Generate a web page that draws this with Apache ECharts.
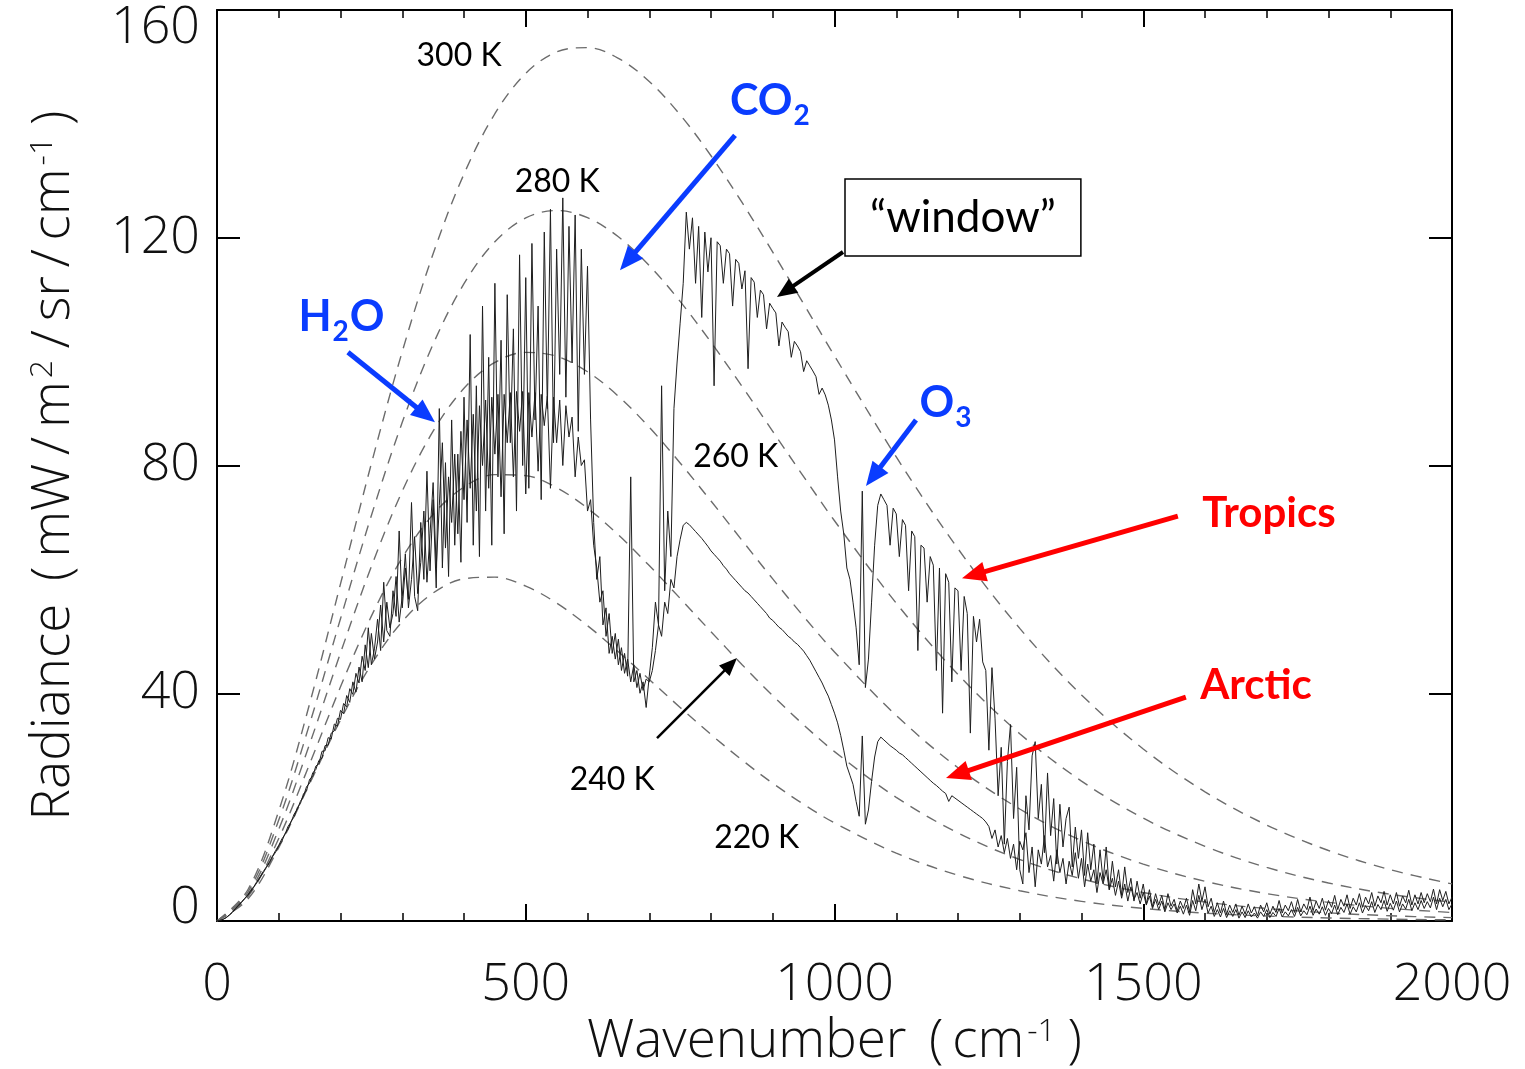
<!DOCTYPE html>
<html>
<head>
<meta charset="utf-8">
<title>Outgoing longwave radiance spectra</title>
<script src="https://cdn.jsdelivr.net/npm/echarts@6/dist/echarts.min.js"></script>
<style>
  html, body { margin: 0; padding: 0; background: #fff; }
  #chart { width: 1525px; height: 1069px; }
</style>
</head>
<body>
<div id="chart"></div>
<script>
// ---------------------------------------------------------------------------
// Data
// ---------------------------------------------------------------------------

// Measured spectra are sampled every 5 cm^-1 from 0 to 2000 cm^-1.
const specStart = 0;
const specStep = 5;

// Tropical clear-sky radiance (mW/m^2/sr/cm^-1)
const tropics = [
  0, 0.1, 0.3, 0.6, 1.1, 1.6, 2.2, 2.8, 3.4, 4.0, 4.6, 5.4, 6.1, 7.0, 7.8, 8.7, 9.5, 10.4, 11.4, 12.4,
  13.3, 14.4, 15.2, 16.6, 17.4, 18.8, 19.6, 21.0, 21.9, 23.6, 24.2, 26.0, 26.6, 28.2, 28.6, 30.8, 30.9, 33.0, 33.4, 35.6,
  35.4, 38.2, 37.6, 40.8, 39.8, 43.5, 41.8, 46.5, 44.0, 51.5, 45.0, 47.8, 53.0, 47.5, 59.5, 51.0, 50.0, 58.0, 53.5, 68.5,
  55.0, 62.0, 56.5, 73.5, 57.0, 54.5, 70.0, 60.0, 79.0, 61.5, 74.0, 58.5, 90.0, 62.0, 80.5, 60.5, 88.0, 66.0, 82.0, 63.0,
  92.0, 70.0, 103.0, 66.0, 94.0, 64.0, 108.0, 72.0, 99.0, 66.0, 112.0, 78.0, 102.0, 68.0, 110.0, 84.0, 104.0, 72.0, 117.0, 80.0,
  113.0, 76.0, 119.0, 88.0, 108.0, 74.0, 121.0, 90.0, 125.0, 84.0, 118.0, 96.0, 127.0, 92.0, 122.0, 98.0, 124.0, 86.0, 118.0, 96.0,
  115.0, 88.0, 70.0, 60.0, 64.0, 52.0, 55.0, 47.0, 50.0, 46.0, 49.5, 44.0, 47.0, 43.0, 78.0, 42.0, 44.0, 40.0, 42.0, 37.5,
  43.0, 48.0, 56.0, 52.0, 94.0, 58.0, 72.0, 64.0, 90.0, 98.0, 105.0, 112.0, 124.5, 118.0, 123.5, 112.0, 122.0, 106.0, 121.0, 114.0,
  120.0, 94.0, 119.3, 118.6, 112.0, 118.0, 117.2, 108.0, 116.2, 115.5, 111.0, 114.2, 97.0, 113.0, 112.2, 106.0, 110.8, 110.0, 104.0, 108.5,
  107.6, 106.8, 101.0, 105.2, 104.3, 103.5, 99.0, 101.8, 101.0, 100.0, 96.5, 98.4, 97.5, 96.6, 95.6, 92.5, 93.6, 92.4, 90.6, 88.0,
  84.5, 78.0, 72.0, 68.0, 62.0, 60.0, 56.0, 51.5, 45.0, 75.5, 41.0, 46.0, 56.0, 66.0, 73.0, 75.0, 74.0, 73.0, 66.0, 72.5,
  71.5, 64.0, 70.5, 69.5, 58.0, 68.5, 67.5, 47.5, 66.0, 65.5, 56.0, 64.0, 62.5, 44.0, 62.0, 36.5, 61.0, 59.5, 42.0, 58.5,
  58.0, 44.0, 57.0, 54.0, 33.0, 53.5, 49.0, 53.0, 45.5, 44.0, 30.0, 44.5, 35.5, 22.0, 30.5, 13.5, 28.0, 34.5, 18.0, 27.0,
  9.0, 6.5, 22.0, 16.0, 29.0, 31.5, 18.0, 24.0, 12.0, 26.0, 15.0, 21.5, 10.0, 20.5, 13.0, 18.0, 20.0, 9.5, 16.5, 11.0,
  16.0, 8.0, 15.5, 9.0, 13.5, 6.5, 12.5, 7.0, 13.0, 5.5, 10.5, 6.0, 9.0, 4.5, 9.5, 5.0, 7.5, 3.5, 7.0, 4.0,
  6.5, 3.0, 5.5, 2.5, 4.8, 2.8, 4.5, 2.0, 4.8, 2.6, 3.8, 1.8, 3.5, 2.2, 4.0, 1.6, 5.5, 3.0, 6.5, 3.5,
  6.0, 2.5, 4.0, 1.5, 3.2, 1.4, 3.5, 1.2, 2.8, 1.5, 3.0, 1.0, 2.6, 1.2, 3.0, 1.4, 2.5, 0.9, 2.8, 1.6,
  3.2, 1.2, 2.6, 1.5, 3.6, 1.4, 2.8, 1.8, 3.4, 1.5, 3.8, 1.6, 3.0, 2.0, 4.2, 1.8, 3.5, 2.2, 4.0, 1.9,
  3.6, 2.4, 4.5, 2.0, 3.8, 2.6, 4.6, 2.2, 4.0, 2.8, 4.8, 2.4, 4.2, 3.0, 5.0, 2.6, 4.4, 3.2, 5.2, 2.8,
  4.6, 3.0, 5.0, 2.6, 4.4, 3.2, 5.4, 2.8, 4.6, 3.0, 5.0, 3.2, 4.8, 3.4, 5.6, 3.0, 5.5, 3.6, 5.2, 3.0,
  4.2
];

// Arctic clear-sky radiance (mW/m^2/sr/cm^-1)
const arctic = [
  0, 0.1, 0.3, 0.6, 1.0, 1.5, 2.1, 2.7, 3.3, 3.9, 4.5, 5.2, 6.0, 6.8, 7.7, 8.5, 9.4, 10.2, 11.3, 12.1,
  13.2, 14.0, 15.3, 16.1, 17.5, 18.3, 19.9, 20.6, 22.3, 22.9, 24.9, 25.4, 27.2, 27.6, 29.8, 29.9, 32.2, 32.0, 34.6, 34.2,
  37.0, 36.4, 39.6, 38.4, 42.0, 40.2, 44.6, 42.0, 48.5, 44.5, 50.5, 46.0, 49.0, 55.5, 49.0, 56.0, 51.5, 54.0, 60.5, 52.5,
  57.0, 64.5, 55.0, 60.0, 67.5, 57.5, 63.0, 72.0, 59.5, 68.0, 77.0, 62.0, 73.0, 84.0, 65.5, 78.0, 70.0, 82.0, 68.0, 86.0,
  74.0, 88.0, 76.0, 89.0, 72.0, 90.5, 80.0, 91.5, 76.0, 92.0, 82.0, 92.5, 74.5, 92.5, 84.0, 92.8, 78.0, 93.0, 86.0, 93.0,
  75.0, 92.8, 85.0, 92.8, 79.0, 92.5, 87.0, 92.2, 76.0, 92.0, 84.0, 91.5, 80.0, 90.5, 85.0, 88.5, 78.0, 85.0, 80.0, 81.0,
  72.0, 74.0, 66.0, 62.0, 56.0, 58.0, 50.0, 54.0, 47.0, 50.5, 45.0, 48.0, 43.5, 46.0, 42.0, 45.0, 41.0, 43.5, 40.5, 42.5,
  42.0, 44.0, 47.5, 52.0, 50.0, 56.0, 54.0, 60.0, 58.5, 64.0, 67.0, 69.5, 70.0, 69.6, 69.0, 68.4, 67.8, 67.2, 66.5, 65.8,
  65.0, 64.4, 63.8, 63.2, 62.4, 61.8, 61.0, 60.4, 59.8, 59.2, 58.6, 58.0, 57.6, 57.0, 56.4, 55.8, 55.2, 54.6, 54.0, 53.2,
  52.8, 52.2, 51.6, 51.2, 50.6, 50.0, 49.6, 49.0, 48.6, 48.0, 47.4, 46.6, 45.8, 44.8, 43.8, 42.8, 41.8, 40.6, 39.5, 38.0,
  36.5, 34.8, 32.6, 30.0, 27.2, 25.6, 24.0, 21.0, 18.4, 32.5, 17.0, 19.5, 24.5, 28.8, 31.5, 32.3, 31.8, 31.3, 30.8, 30.4,
  30.0, 29.5, 29.2, 28.7, 28.2, 27.7, 27.2, 26.7, 26.2, 25.7, 25.2, 24.7, 24.2, 23.8, 23.3, 22.8, 22.4, 21.0, 22.0, 21.6,
  21.2, 20.8, 20.4, 20.0, 19.6, 19.2, 18.8, 18.4, 18.0, 17.4, 16.6, 14.5, 16.0, 13.0, 15.0, 12.0, 14.5, 11.0, 13.5, 9.0,
  14.0, 12.5, 15.5, 8.5, 13.0, 6.0, 12.5, 10.0, 15.0, 9.5, 11.5, 7.0, 12.5, 8.5, 11.0, 6.5, 10.5, 8.0, 12.0, 7.5,
  11.0, 6.0, 10.0, 7.0, 9.0, 5.0, 8.5, 6.5, 9.0, 5.5, 7.5, 4.5, 7.0, 4.0, 6.5, 3.5, 6.0, 3.8, 5.0, 3.0,
  5.0, 2.8, 4.4, 2.2, 3.8, 2.0, 3.5, 1.6, 3.2, 2.0, 3.0, 1.4, 2.6, 1.2, 2.8, 1.0, 3.6, 1.8, 4.5, 2.0,
  3.8, 1.4, 2.6, 0.8, 2.0, 0.7, 2.2, 0.6, 1.8, 0.8, 2.0, 0.5, 1.6, 0.6, 1.8, 0.7, 1.4, 0.5, 1.6, 0.8,
  2.0, 0.6, 1.5, 0.8, 2.2, 0.7, 1.6, 0.9, 2.0, 0.8, 2.4, 0.9, 1.8, 1.1, 2.6, 1.0, 2.1, 1.2, 2.5, 1.0,
  2.2, 1.3, 2.8, 1.1, 2.4, 1.5, 3.0, 1.2, 2.5, 1.6, 3.2, 1.4, 2.7, 1.8, 3.4, 1.5, 2.9, 2.0, 3.6, 1.7,
  3.1, 1.9, 3.5, 1.6, 3.0, 2.1, 3.8, 1.8, 3.2, 2.0, 3.6, 2.2, 3.4, 2.3, 4.2, 2.0, 4.0, 2.5, 3.8, 2.0,
  3.0
];

// Blackbody reference curves (mW/m^2/sr/cm^-1) at these wavenumbers
const planckWn = [0, 50, 100, 150, 200, 250, 300, 350, 400, 450, 500, 550, 600, 650, 700, 750, 800, 850, 900, 950,
                  1000, 1100, 1200, 1300, 1400, 1500, 1600, 1700, 1800, 1900, 2000];
const planck300 = [0, 5.49, 19.35, 38.17, 59.20, 80.33, 100.0, 117.18, 131.2, 141.78, 148.87, 152.64, 153.4, 151.52, 147.45, 141.6, 134.4, 126.24, 117.47, 108.39,
                   99.24, 81.5, 65.38, 51.39, 39.71, 30.22, 22.69, 16.85, 12.38, 9.01, 6.51];
const planck280 = [0, 5.08, 17.73, 34.61, 53.09, 71.21, 87.58, 101.31, 111.94, 119.30, 123.49, 124.78, 123.53, 120.17, 115.12, 108.82, 101.64, 93.94, 86.00, 78.05,
                   70.29, 55.83, 43.30, 32.90, 24.57, 18.07, 13.12, 9.41, 6.68, 4.70, 3.28];
const planck260 = [0, 4.67, 16.11, 31.08, 47.07, 62.27, 75.49, 86.02, 93.56, 98.10, 99.86, 99.18, 96.47, 92.17, 86.71, 80.45, 73.76, 66.89, 60.08, 53.49,
                   47.25, 36.10, 26.92, 19.67, 14.12, 9.99, 6.97, 4.81, 3.28, 2.22, 1.49];
const planck240 = [0, 4.26, 14.50, 27.58, 41.13, 53.54, 63.80, 71.41, 76.22, 78.39, 78.22, 76.11, 72.50, 67.81, 62.42, 56.67, 50.81, 45.06, 39.58, 34.45,
                   29.75, 21.72, 15.47, 10.80, 7.40, 5.00, 3.33, 2.19, 1.43, 0.92, 0.59];
const planck220 = [0, 3.85, 12.90, 24.11, 35.31, 45.07, 52.60, 57.61, 60.11, 60.39, 58.82, 55.84, 51.87, 47.29, 42.42, 37.51, 32.76, 28.29, 24.19, 20.50,
                   17.23, 11.92, 8.04, 5.32, 3.45, 2.21, 1.39, 0.87, 0.54, 0.33, 0.20];

// Axis ranges and tick steps
const xMin = 0, xMax = 2000, xStep = 500;
const yMin = 0, yMax = 160, yStep = 40;

// ---------------------------------------------------------------------------
// Styling
// ---------------------------------------------------------------------------
const AXIS_FONT = "'Open Sans', 'DejaVu Sans', sans-serif";
const NOTE_FONT = "Lato, 'Open Sans', sans-serif";
const BLUE = '#0a3cff';
const RED = '#ff0000';
const THIN = '\u2009';

const toPairs = (xs, ys) => ys.map((y, i) => [xs[i], y]);
const spectrumPairs = (ys) => ys.map((y, i) => [specStart + i * specStep, y]);

const planckSeries = [planck300, planck280, planck260, planck240, planck220].map((vals) => ({
  type: 'line',
  data: toPairs(planckWn, vals),
  smooth: 0.35,
  showSymbol: false,
  silent: true,
  z: 2,
  lineStyle: { color: '#6c6c6c', width: 1.4, type: [11, 8] }
}));

const spectrumStyle = { color: '#1e1e1e', width: 1 };

const tickLabelStyle = {
  fontFamily: AXIS_FONT, fontWeight: 300, fontSize: 52, color: '#111'
};

const axisNameStyle = {
  fontFamily: AXIS_FONT, fontWeight: 300, fontSize: 53, color: '#111',
  rich: {
    sup: { fontFamily: AXIS_FONT, fontWeight: 300, fontSize: 32, color: '#111', verticalAlign: 'top', padding: [0, 3, 0, 3] }
  }
};

const frameAxisX = (extra) => Object.assign({
  type: 'value', min: xMin, max: xMax, interval: xStep,
  axisLine: { show: true, onZero: false, lineStyle: { color: '#000', width: 2 } },
  axisTick: { show: true, inside: true, length: 17, lineStyle: { color: '#000', width: 2 } },
  minorTick: { show: true, splitNumber: 5, length: 8, lineStyle: { color: '#000', width: 1.5 } },
  splitLine: { show: false },
  minorSplitLine: { show: false }
}, extra);

const frameAxisY = (extra) => Object.assign({
  type: 'value', min: yMin, max: yMax, interval: yStep,
  axisLine: { show: true, onZero: false, lineStyle: { color: '#000', width: 2 } },
  axisTick: { show: true, inside: true, length: 23, lineStyle: { color: '#000', width: 2 } },
  splitLine: { show: false }
}, extra);

const option = {
  animation: false,
  backgroundColor: '#fff',
  grid: { left: 217, right: 73, top: 10, bottom: 148, containLabel: false, outerBoundsMode: 'none' },
  xAxis: [
    frameAxisX({
      position: 'bottom',
      axisLabel: Object.assign({ margin: 38, formatter: (v) => String(v) }, tickLabelStyle),
      name: 'Wavenumber ' + THIN + '(' + THIN + 'cm{sup|-1}' + THIN + ')',
      nameLocation: 'middle',
      nameGap: 86,
      nameTextStyle: axisNameStyle
    }),
    frameAxisX({ position: 'top', axisLabel: { show: false } })
  ],
  yAxis: [
    frameAxisY({
      position: 'left',
      axisLabel: Object.assign({
        margin: 17,
        formatter: (v) => (v === yMax ? '{hi|' + v + '}' : v === yMin ? '{lo|' + v + '}' : String(v)),
        rich: {
          hi: Object.assign({ padding: [36, 0, 0, 0] }, tickLabelStyle),
          lo: Object.assign({ padding: [0, 0, 26, 0] }, tickLabelStyle)
        }
      }, tickLabelStyle),
      name: 'Radiance ' + THIN + '(' + THIN + 'mW' + THIN + '/' + THIN + 'm{sup|2}' + THIN + '/' + THIN + 'sr' + THIN + '/' + THIN + 'cm{sup|-1}' + THIN + ')',
      nameLocation: 'middle',
      nameRotate: 90,
      nameGap: 137,
      nameTextStyle: axisNameStyle
    }),
    frameAxisY({ position: 'right', axisLabel: { show: false } })
  ],
  series: planckSeries.concat([
    {
      name: 'Tropics', type: 'line', data: spectrumPairs(tropics),
      showSymbol: false, silent: true, z: 3, lineStyle: spectrumStyle
    },
    {
      name: 'Arctic', type: 'line', data: spectrumPairs(arctic),
      showSymbol: false, silent: true, z: 3, lineStyle: spectrumStyle
    }
  ])
};

const chart = echarts.init(document.getElementById('chart'), null, { renderer: 'canvas' });
chart.setOption(option);

// ---------------------------------------------------------------------------
// Annotations, placed in data coordinates
// ---------------------------------------------------------------------------
const tempNotes = [
  { text: '300 K', at: [392, 151.9] },
  { text: '280 K', at: [551, 129.9] },
  { text: '260 K', at: [840, 81.6] },
  { text: '240 K', at: [640, 24.8] },
  { text: '220 K', at: [874, 14.6] }
];

const gasNotes = [
  { parts: [['m', 'CO'], ['s', '2']], at: [896, 144.0] },
  { parts: [['m', 'H'], ['s', '2'], ['m', 'O']], at: [201.6, 106.1] },
  { parts: [['m', 'O'], ['s', '3']], at: [1180.6, 90.9] }
];

const regionNotes = [
  { text: 'Tropics', at: [1703.6, 71.6] },
  { text: 'Arctic', at: [1682.6, 41.3] }
];

const arrows = [
  { from: [838.9, 138.0], to: [652.6, 114.3], color: BLUE, width: 5, head: [24, 20] },
  { from: [212.1, 99.9], to: [353.0, 87.6], color: BLUE, width: 5, head: [24, 20] },
  { from: [1132, 88.0], to: [1051, 76.4], color: BLUE, width: 5, head: [24, 20] },
  { from: [1556, 71.1], to: [1206.5, 60.2], color: RED, width: 5, head: [24, 20] },
  { from: [1569, 39.3], to: [1180.6, 25.1], color: RED, width: 5, head: [24, 20] },
  { from: [1013.8, 117.5], to: [906.9, 109.6], color: '#000', width: 4, head: [20, 17] },
  { from: [712.6, 32.1], to: [842.1, 46.2], color: '#000', width: 2.5, head: [18, 15] }
];

const windowBox = { corners: [[1017, 130.3], [1399, 116.8]], text: '\u201Cwindow\u201D' };

const toPx = (p) => chart.convertToPixel({ xAxisIndex: 0, yAxisIndex: 0 }, p);

function arrowShapes(a) {
  const [x1, y1] = toPx(a.from);
  const [x2, y2] = toPx(a.to);
  const dx = x2 - x1, dy = y2 - y1, len = Math.hypot(dx, dy);
  const ux = dx / len, uy = dy / len, nx = -uy, ny = ux;
  const [hl, hw] = a.head;
  const bx = x2 - ux * hl, by = y2 - uy * hl;
  return [
    {
      type: 'line', z: 100, silent: true,
      shape: { x1: x1, y1: y1, x2: bx + ux * 2, y2: by + uy * 2 },
      style: { stroke: a.color, lineWidth: a.width }
    },
    {
      type: 'polygon', z: 100, silent: true,
      shape: { points: [[x2, y2], [bx + nx * hw / 2, by + ny * hw / 2], [bx - nx * hw / 2, by - ny * hw / 2]] },
      style: { fill: a.color }
    }
  ];
}

const graphics = [];

arrows.forEach((a) => graphics.push(...arrowShapes(a)));

tempNotes.forEach((n) => {
  const [x, y] = toPx(n.at);
  graphics.push({
    type: 'text', x: x, y: y, z: 110, silent: true,
    style: { text: n.text, fontFamily: NOTE_FONT, fontSize: 32, fill: '#000', align: 'center', verticalAlign: 'middle' }
  });
});

gasNotes.forEach((n) => {
  const [x, y] = toPx(n.at);
  graphics.push({
    type: 'text', x: x, y: y, z: 110, silent: true,
    style: {
      text: n.parts.map((p) => '{' + p[0] + '|' + p[1] + '}').join(''),
      align: 'center', verticalAlign: 'middle',
      rich: {
        m: { fontFamily: NOTE_FONT, fontWeight: 'bold', fontSize: 43, fill: BLUE, lineHeight: 58, verticalAlign: 'middle' },
        s: { fontFamily: NOTE_FONT, fontWeight: 'bold', fontSize: 28, fill: BLUE, lineHeight: 28, verticalAlign: 'bottom', padding: [0, 1, 0, 1] }
      }
    }
  });
});

regionNotes.forEach((n) => {
  const [x, y] = toPx(n.at);
  graphics.push({
    type: 'text', x: x, y: y, z: 110, silent: true,
    style: { text: n.text, fontFamily: NOTE_FONT, fontWeight: 'bold', fontSize: 42, fill: RED, align: 'center', verticalAlign: 'middle' }
  });
});

(function () {
  const [a, b] = windowBox.corners.map(toPx);
  graphics.push({
    type: 'rect', z: 105, silent: true,
    shape: { x: a[0], y: a[1], width: b[0] - a[0], height: b[1] - a[1] },
    style: { fill: '#fff', stroke: '#000', lineWidth: 1.5 }
  });
  graphics.push({
    type: 'text', x: (a[0] + b[0]) / 2, y: (a[1] + b[1]) / 2, z: 110, silent: true,
    style: { text: windowBox.text, fontFamily: NOTE_FONT, fontSize: 44, fill: '#000', align: 'center', verticalAlign: 'middle' }
  });
})();

chart.setOption({ graphic: { elements: graphics } });
</script>
</body>
</html>
